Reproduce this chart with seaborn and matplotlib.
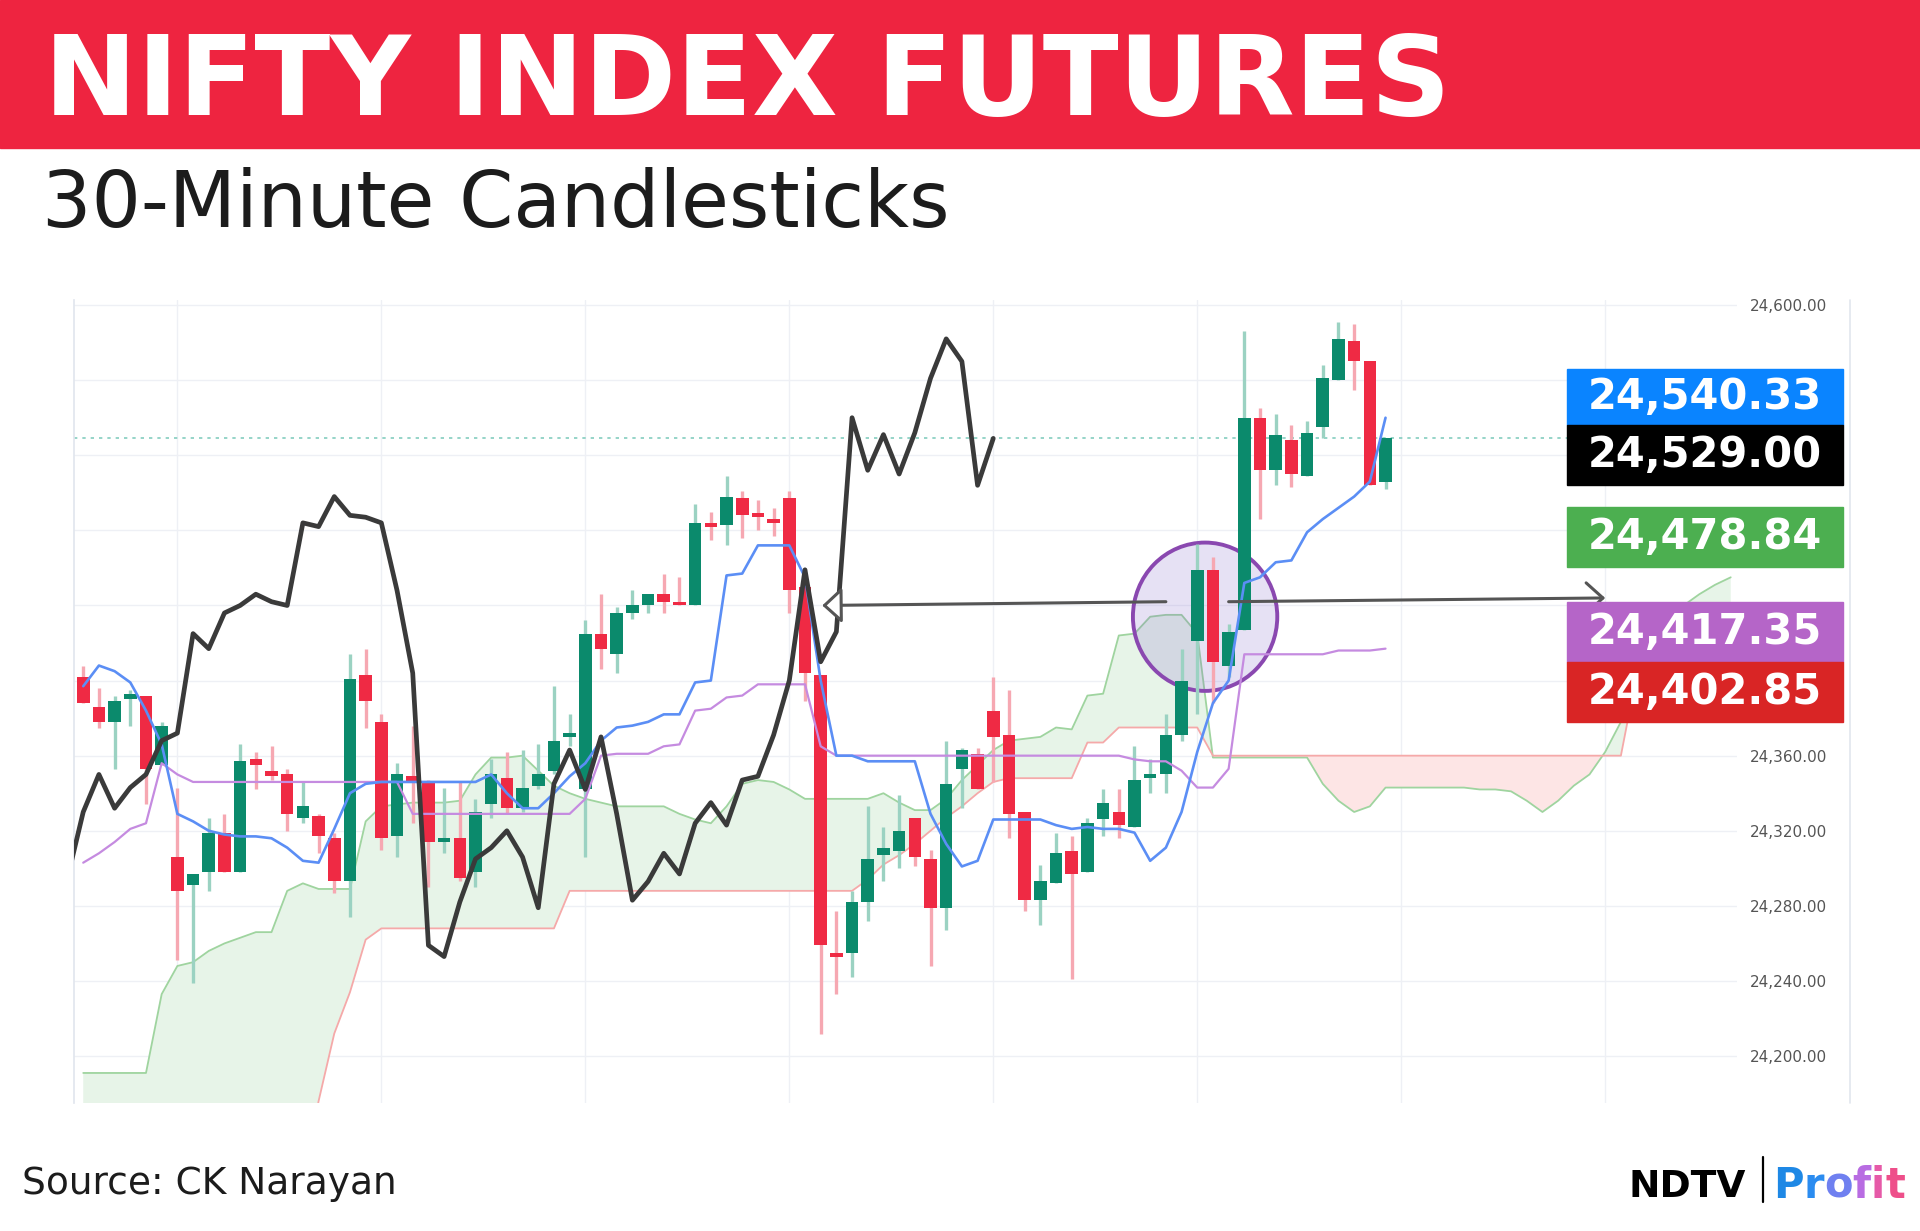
import matplotlib
matplotlib.use('Agg')
import matplotlib.pyplot as plt
import numpy as np
import seaborn as sns
from matplotlib.patches import Rectangle, Ellipse
from matplotlib.lines import Line2D
from matplotlib.ticker import FuncFormatter

# 30-minute candles (bar index = position)
open_ = [24402, 24386, 24378, 24390, 24392, 24355, 24306, 24291, 24298, 24319,
         24298, 24358, 24352, 24350, 24327, 24328, 24316, 24293, 24403, 24378,
         24317, 24349, 24346, 24314, 24316, 24298, 24334, 24348, 24332, 24344,
         24352, 24370, 24342, 24425, 24414, 24436, 24440, 24446, 24441, 24440,
         24484, 24483, 24497, 24488, 24486, 24497, 24450, 24403, 24255, 24255,
         24282, 24307, 24309, 24327, 24305, 24279, 24353, 24361, 24384, 24371,
         24330, 24283, 24292, 24309, 24298, 24326, 24330, 24322, 24348, 24350,
         24371, 24421, 24459, 24408, 24427, 24540, 24512, 24528, 24509, 24535,
         24560, 24581, 24570, 24506]
high_ = [24408, 24396, 24392, 24395, 24392, 24378, 24343, 24297, 24327, 24329,
         24366, 24362, 24365, 24353, 24346, 24329, 24319, 24414, 24417, 24382,
         24356, 24376, 24347, 24343, 24346, 24337, 24358, 24362, 24363, 24366,
         24397, 24382, 24432, 24446, 24439, 24448, 24446, 24457, 24455, 24494,
         24490, 24509, 24501, 24496, 24492, 24501, 24457, 24403, 24277, 24288,
         24333, 24322, 24339, 24327, 24310, 24368, 24364, 24364, 24402, 24395,
         24330, 24302, 24319, 24317, 24327, 24342, 24342, 24365, 24358, 24382,
         24417, 24473, 24466, 24430, 24586, 24545, 24542, 24536, 24538, 24568,
         24591, 24590, 24570, 24529]
low_ = [24388, 24375, 24353, 24376, 24334, 24355, 24251, 24239, 24288, 24298,
        24298, 24342, 24347, 24320, 24324, 24308, 24287, 24274, 24375, 24310,
        24306, 24324, 24290, 24308, 24293, 24290, 24327, 24329, 24330, 24342,
        24350, 24365, 24306, 24406, 24404, 24433, 24436, 24436, 24440, 24440,
        24475, 24472, 24476, 24480, 24477, 24436, 24389, 24212, 24233, 24242,
        24272, 24293, 24300, 24301, 24248, 24267, 24332, 24342, 24346, 24316,
        24277, 24270, 24292, 24241, 24298, 24317, 24316, 24322, 24340, 24340,
        24368, 24382, 24388, 24402, 24427, 24486, 24504, 24503, 24509, 24529,
        24560, 24555, 24504, 24502]
close_ = [24388, 24378, 24389, 24393, 24353, 24376, 24288, 24297, 24319, 24298,
          24357, 24355, 24349, 24329, 24333, 24317, 24293, 24401, 24389, 24316,
          24350, 24346, 24314, 24316, 24295, 24330, 24350, 24332, 24343, 24350,
          24368, 24372, 24425, 24417, 24436, 24440, 24446, 24442, 24440, 24484,
          24482, 24498, 24488, 24487, 24484, 24448, 24404, 24259, 24253, 24282,
          24305, 24311, 24320, 24306, 24279, 24345, 24363, 24342, 24370, 24329,
          24283, 24293, 24308, 24297, 24324, 24335, 24323, 24347, 24349, 24371,
          24400, 24459, 24410, 24426, 24540, 24512, 24531, 24510, 24532, 24561,
          24582, 24570, 24504, 24529]

# Ichimoku lines
tenkan = [24397, 24408, 24405, 24399, 24384, 24366, 24329, 24325, 24320, 24318,
          24317, 24317, 24316, 24311, 24304, 24303, 24321, 24340, 24345, 24346,
          24346, 24346, 24346, 24346, 24346, 24346, 24350, 24340, 24332, 24332,
          24340, 24349, 24356, 24368, 24375, 24376, 24378, 24382, 24382, 24399,
          24400, 24456, 24457, 24472, 24472, 24472, 24455, 24400, 24360, 24360,
          24357, 24357, 24357, 24357, 24329, 24313, 24301, 24304, 24326, 24326,
          24326, 24326, 24323, 24321, 24322, 24321, 24321, 24319, 24304, 24311,
          24330, 24362, 24388, 24400, 24452, 24455, 24463, 24464, 24479, 24486,
          24492, 24498, 24506, 24540]
kijun = [24303, 24308, 24314, 24321, 24324, 24356, 24350, 24346, 24346, 24346,
         24346, 24346, 24346, 24346, 24346, 24346, 24346, 24346, 24346, 24346,
         24346, 24329, 24329, 24329, 24329, 24329, 24329, 24329, 24329, 24329,
         24329, 24329, 24337, 24360, 24361, 24361, 24361, 24365, 24366, 24384,
         24385, 24391, 24392, 24398, 24398, 24398, 24398, 24365, 24360, 24360,
         24360, 24360, 24360, 24360, 24360, 24360, 24360, 24360, 24360, 24360,
         24360, 24360, 24360, 24360, 24360, 24360, 24360, 24358, 24357, 24357,
         24352, 24343, 24343, 24353, 24414, 24414, 24414, 24414, 24414, 24414,
         24416, 24416, 24416, 24417]
# cloud spans projected 25 bars ahead (first values of span B sit below the view)
senkou_a = [24191, 24191, 24191, 24191, 24191, 24233, 24248, 24250, 24256, 24260,
            24263, 24266, 24266, 24288, 24292, 24289, 24289, 24289, 24325, 24333,
            24334, 24335, 24335, 24335, 24336, 24350, 24359, 24359, 24360, 24352,
            24344, 24340, 24337, 24335, 24333, 24333, 24333, 24333, 24329, 24326,
            24324, 24333, 24345, 24347, 24346, 24342, 24337, 24337, 24337, 24337,
            24337, 24340, 24335, 24331, 24331, 24337, 24347, 24355, 24363, 24368,
            24369, 24370, 24375, 24374, 24392, 24393, 24424, 24425, 24434, 24435,
            24435, 24425, 24359, 24359, 24359, 24359, 24359, 24359, 24359, 24345,
            24336, 24330, 24333, 24343, 24343, 24343, 24343, 24343, 24343, 24342,
            24342, 24341, 24336, 24330, 24336, 24344, 24350, 24362, 24378, 24395,
            24412, 24428, 24440, 24446, 24451, 24455]
senkou_b = [24130, 24130, 24130, 24130, 24130, 24130, 24130, 24130, 24130, 24130,
            24130, 24130, 24130, 24130, 24130, 24176, 24212, 24234, 24262, 24268,
            24268, 24268, 24268, 24268, 24268, 24268, 24268, 24268, 24268, 24268,
            24268, 24288, 24288, 24288, 24288, 24288, 24288, 24288, 24288, 24288,
            24288, 24288, 24288, 24288, 24288, 24288, 24288, 24288, 24288, 24288,
            24294, 24302, 24307, 24313, 24320, 24327, 24333, 24340, 24346, 24348,
            24348, 24348, 24348, 24348, 24367, 24367, 24375, 24375, 24375, 24375,
            24375, 24375, 24360, 24360, 24360, 24360, 24360, 24360, 24360, 24360,
            24360, 24360, 24360, 24360, 24360, 24360, 24360, 24360, 24360, 24360,
            24360, 24360, 24360, 24360, 24360, 24360, 24360, 24360, 24360, 24403,
            24403, 24403, 24403, 24403, 24403, 24403]
CHIKOU_SHIFT = 25

price_ticks = [24200, 24240, 24280, 24320, 24360, 24400, 24440, 24480, 24520, 24560, 24600]
# scale labels that sit under the value tags in the original
covered_ticks = [24400, 24440, 24480, 24520, 24560]
day_breaks = [6, 19, 32, 45, 58, 71, 84, 97]

label_values = [24540.33, 24529.00, 24478.84, 24417.35, 24402.85]
label_colors = ['#0a84ff', '#000000', '#4caf50', '#b565c8', '#d92525']

GREEN, RED = '#0b8a6c', '#ef2a44'

sns.set_theme(style='white')
plt.rcParams['font.family'] = ['DejaVu Sans']

W, H = 1920, 1231
fig = plt.figure(figsize=(W / 100, H / 100), dpi=100)
fig.patch.set_facecolor('white')

def fx(px):
    return px / W

def fy(py):
    return 1 - py / H

# header band + titles
fig.add_artist(Rectangle((0, fy(148)), 1, 148 / H, transform=fig.transFigure,
                         color='#ee2440', zorder=0))
fig.text(fx(44), fy(115), 'NIFTY INDEX FUTURES', color='white', fontsize=80,
         fontweight='bold', va='baseline')
fig.text(fx(42), fy(227), '30-Minute Candlesticks', color='#1c1c1c',
         fontsize=56, va='baseline')

# chart pane
ax = fig.add_axes([fx(73.5), fy(1103), fx(1737 - 73.5), (1103 - 300) / H])
ax.set_facecolor('white')

cx = np.arange(len(senkou_a))
a = np.array(senkou_a, dtype=float)
b = np.array(senkou_b, dtype=float)
ax.fill_between(cx, a, b, where=a >= b, interpolate=True, color='#e7f4e8', lw=0, zorder=1)
ax.fill_between(cx, a, b, where=a < b, interpolate=True, color='#fde5e5', lw=0, zorder=1)
sns.lineplot(x=cx, y=a, ax=ax, color='#9fd49f', lw=1.3, zorder=2)
sns.lineplot(x=cx, y=b, ax=ax, color='#f5a9a9', lw=1.3, zorder=2)

# last price dotted line
ax.axhline(close_[-1], color='#84cdbf', lw=1.2, ls=(0, (2, 3)), zorder=2)

# circled zone
ax.add_patch(Ellipse((71.5, 24434), 9.2, 79, facecolor=(0.52, 0.42, 0.80, 0.2),
                     edgecolor='#8a48b0', lw=2.8, zorder=2.5))

# candles
bars = np.arange(len(close_))
o = np.array(open_, dtype=float)
c = np.array(close_, dtype=float)
h = np.array(high_, dtype=float)
l = np.array(low_, dtype=float)
up = c >= o
lo = np.minimum(o, c)
body = np.maximum(np.abs(c - o), 2)
ax.vlines(bars[up], l[up], h[up], color='#9bd2c2', lw=2.4, zorder=3)
ax.vlines(bars[~up], l[~up], h[~up], color='#f6a8b2', lw=2.4, zorder=3)
ax.bar(bars[up], body[up], bottom=lo[up], width=0.8, color=GREEN, lw=0, zorder=4)
ax.bar(bars[~up], body[~up], bottom=lo[~up], width=0.8, color=RED, lw=0, zorder=4)

# tenkan, kijun, lagging span
sns.lineplot(x=bars, y=kijun, ax=ax, color='#c58be0', lw=1.6, zorder=5)
sns.lineplot(x=bars, y=tenkan, ax=ax, color='#5b8ef5', lw=1.9, zorder=5)
sns.lineplot(x=bars - CHIKOU_SHIFT, y=close_, ax=ax, color='#3a3a3a', lw=3.4, zorder=6)

# hand-drawn arrows
ax.annotate('', xy=(47.1, 24440), xytext=(69.0, 24442),
            arrowprops=dict(arrowstyle='-|>,head_length=0.6,head_width=0.55',
                            mutation_scale=20, lw=2.2, ec='#555555', fc='white',
                            shrinkA=0, shrinkB=0), zorder=7)
ax.annotate('', xy=(97.0, 24444), xytext=(73.0, 24442),
            arrowprops=dict(arrowstyle='->,head_length=0.6,head_width=0.55',
                            mutation_scale=20, lw=2.2, color='#555555',
                            shrinkA=0, shrinkB=0), zorder=7)

ax.set_xlim(-0.62, 105.4)
ax.set_ylim(24175, 24602.7)
ax.set_xticks(day_breaks)
ax.set_xticklabels([])
ax.set_yticks(price_ticks)
ax.yaxis.tick_right()
ax.yaxis.set_major_formatter(
    FuncFormatter(lambda v, _: '' if round(v) in covered_ticks else f'{v:,.2f}'))
ax.tick_params(axis='y', length=0, pad=9, labelsize=11, labelcolor='#555555')
ax.tick_params(axis='x', length=0)
ax.grid(True, color='#eef0f5', lw=1)
ax.set_axisbelow(True)
ax.set_xlabel('')
ax.set_ylabel('')
for side in ['top', 'right', 'bottom']:
    ax.spines[side].set_visible(False)
ax.spines['left'].set_color('#e2e6ee')

# price-scale border
fig.add_artist(Line2D([fx(1850), fx(1850)], [fy(300), fy(1103)],
                      transform=fig.transFigure, color='#e2e6ee', lw=1.2))

# value tags on the right
box_tops = [369, 425, 507, 602, 662]
box_heights = [56, 60, 60, 60, 60]
for val, col, top, bh in zip(label_values, label_colors, box_tops, box_heights):
    fig.add_artist(Rectangle((fx(1567), fy(top + bh)), fx(276), bh / H,
                             transform=fig.transFigure, color=col, zorder=10))
    fig.text(fx(1705), fy(top + bh / 2), f'{val:,.2f}', color='white', fontsize=30,
             fontweight='bold', ha='center', va='center', zorder=11)

# footer
fig.text(fx(22), fy(1194), 'Source: CK Narayan', color='#1c1c1c', fontsize=27,
         va='baseline')
fig.text(fx(1629), fy(1197), 'NDTV', color='black', fontsize=27, fontweight='bold',
         va='baseline')
fig.add_artist(Line2D([fx(1763), fx(1763)], [fy(1202), fy(1157)],
                      transform=fig.transFigure, color='black', lw=1.6))
renderer = fig.canvas.get_renderer()
x = fx(1773)
for ch, col in zip('Profit', ['#1e88e5', '#2b8cf0', '#6f80f0', '#b86ce2', '#e65aa8', '#ee4f8a']):
    t = fig.text(x, fy(1198), ch, color=col, fontsize=30, fontweight='bold', va='baseline')
    bb = t.get_window_extent(renderer=renderer)
    x = fig.transFigure.inverted().transform((bb.x1, bb.y0))[0]

fig.savefig('out.png', dpi=100)
